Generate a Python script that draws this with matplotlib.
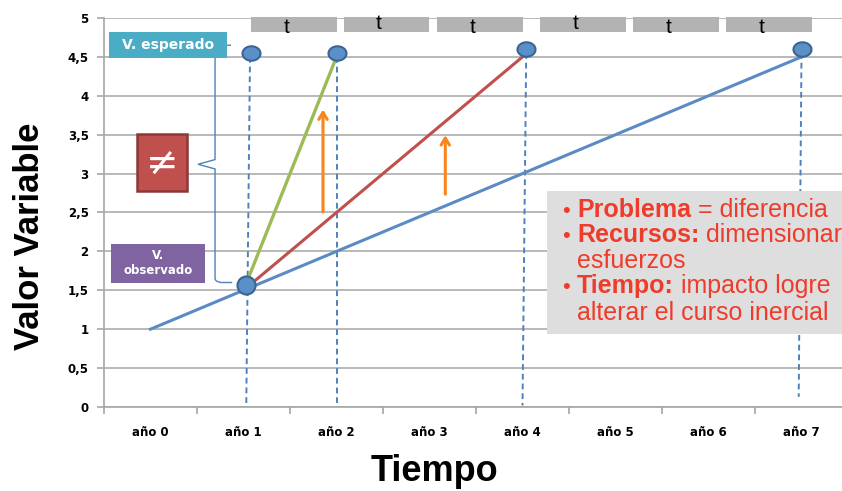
import numpy as np
import matplotlib.pyplot as plt
from matplotlib.path import Path
from matplotlib.patches import Rectangle, PathPatch

# datos
anios = ["año 0", "año 1", "año 2", "año 3", "año 4", "año 5", "año 6", "año 7"]
inercial_x = [0, 7]
inercial_y = [1.0, 4.5]
medio_x = [1, 4]
medio_y = [1.5, 4.5]
rapido_x = [1, 2]
rapido_y = [1.5, 4.5]
esperado_x = [1.08, 2.0, 4.04, 7.0]
esperado_y = [4.55, 4.55, 4.6, 4.6]
observado_x = [1.03]
observado_y = [1.57]
guia_x_arriba = [1.07, 2.0, 4.04, 7.0]
guia_x_abajo = [1.03, 2.0, 4.0, 6.97]
guia_y_arriba = [4.5, 4.5, 4.55, 4.55]
guia_y_abajo = [0.05, 0.05, 0.02, 0.13]
t_ini = [1.08, 2.08, 3.08, 4.19, 5.19, 6.19]
t_fin = [2.0, 2.99, 4.0, 5.11, 6.11, 7.11]
t_y = [4.88, 4.93, 4.88, 4.93, 4.88, 4.88]
flecha_x = [1.855, 3.17]
flecha_y0 = [2.47, 2.7]
flecha_y1 = [3.86, 3.53]

azul = '#4F81BD'
rojo = '#C0504D'
verde = '#9BBB59'
naranja = '#F7861C'
gris = '#A6A6A6'
texto_rojo = '#EE3B2A'

fig = plt.figure(figsize=(8.42, 4.91), dpi=100)
ax = fig.add_axes([104 / 842, 1 - 407 / 491, 744 / 842, 389 / 491])
ax.set_xlim(-0.5, 7.5)
ax.set_ylim(0, 5)

for s in ['top', 'right']:
    ax.spines[s].set_visible(False)
for s in ['left', 'bottom']:
    ax.spines[s].set_color(gris)
    ax.spines[s].set_linewidth(1.2)

ax.set_yticks(np.arange(0, 5.01, 0.5))
ax.set_yticklabels(["0", "0,5", "1", "1,5", "2", "2,5", "3", "3,5", "4", "4,5", "5"],
                   fontsize=8.5, fontweight='bold')
ax.yaxis.grid(True, color=gris, linewidth=1.1)
ax.set_axisbelow(True)
ax.tick_params(axis='y', length=5, color=gris, width=1.2, pad=6)

ax.set_xticks(np.arange(-0.5, 7.51, 1))
ax.set_xticklabels([])
ax.set_xticks(np.arange(len(anios)), minor=True)
ax.set_xticklabels(anios, minor=True, fontsize=8.5, fontweight='bold')
ax.tick_params(axis='x', which='major', length=5, color=gris, width=1.2)
ax.tick_params(axis='x', which='minor', length=0, pad=14)

# lineas guia punteadas
for xa, xb, ya, yb in zip(guia_x_arriba, guia_x_abajo, guia_y_arriba, guia_y_abajo):
    ax.plot([xa, xb], [ya, yb], color=azul, linestyle='--', linewidth=1.4,
            dashes=(3, 2), zorder=2)

# trayectorias
ax.plot(inercial_x, inercial_y, color='#5B8AC5', linewidth=2.2, zorder=3)
ax.plot(medio_x, medio_y, color=rojo, linewidth=2.2, zorder=3)
ax.plot(rapido_x, rapido_y, color=verde, linewidth=2.4, zorder=3)

# marcadores
th = np.linspace(0, 2 * np.pi, 40)
ovalo = Path(np.column_stack([np.cos(th), 0.8 * np.sin(th)]))
ax.plot(esperado_x, esperado_y, linestyle='none', marker=ovalo, markersize=13,
        markerfacecolor='#5B8FC7', markeredgecolor='#3B6593', markeredgewidth=1.5,
        zorder=5, clip_on=False)
ax.plot(observado_x, observado_y, linestyle='none', marker='o', markersize=13,
        markerfacecolor='#5B8FC7', markeredgecolor='#3B6593', markeredgewidth=1.5,
        zorder=5)

# barras t
ax.broken_barh([(a, b - a) for a, b in zip(t_ini, t_fin)], (4.82, 0.19),
               facecolors='#B3B3B3', zorder=3, clip_on=False)
for a, b, yy in zip(t_ini, t_fin, t_y):
    ax.text((a + b) / 2 - 0.08, yy, "t", fontsize=15, family='Liberation Sans',
            ha='center', va='center', zorder=4, clip_on=False)

# flechas naranjas
for xx, y0, y1 in zip(flecha_x, flecha_y0, flecha_y1):
    ax.annotate("", xy=(xx, y1), xytext=(xx, y0),
                arrowprops=dict(arrowstyle='->,head_length=0.5,head_width=0.3',
                                color=naranja, lw=2.2), zorder=4)

# llave
verts = [(0.866, 4.65), (0.694, 4.65), (0.694, 3.18), (0.511, 3.12),
         (0.694, 3.06), (0.694, 1.66), (0.694, 1.607), (0.75, 1.607)]
codes = [Path.MOVETO, Path.LINETO, Path.LINETO, Path.LINETO, Path.LINETO,
         Path.LINETO, Path.CURVE3, Path.CURVE3]
ax.add_patch(PathPatch(Path(verts, codes), facecolor='none',
                       edgecolor=azul, lw=1.0, zorder=4))
ax.plot([0.75, 0.866], [1.607, 1.607], color=azul, lw=1.0, zorder=4)

# cajas
ax.add_patch(Rectangle((-0.446, 4.48), 1.269, 0.34, facecolor='#4BACC6',
                       edgecolor='none', zorder=6))
ax.text(0.19, 4.65, "V. esperado", color='white', fontsize=10, fontweight='bold',
        ha='center', va='center', zorder=7)
ax.add_patch(Rectangle((-0.145, 2.78), 0.537, 0.73, facecolor='#C0504D',
                       edgecolor='#8C3836', lw=1.8, zorder=6))
ax.text(0.123, 3.13, "≠", color='white', fontsize=28, ha='center', va='center',
        zorder=7)
ax.add_patch(Rectangle((-0.425, 1.594), 1.011, 0.501, facecolor='#8064A2',
                       edgecolor='none', zorder=6))
ax.text(0.08, 1.845, "V.\nobservado", color='white', fontsize=8.5,
        fontweight='bold', ha='center', va='center', linespacing=1.2, zorder=7)

# caja de texto
ax.add_patch(Rectangle((4.263, 0.938), 3.4, 1.838, facecolor='#DEDEDE',
                       edgecolor='none', zorder=6, clip_on=False))
lineas = [("Problema", " = diferencia"), ("Recursos:", " dimensionar"),
          ("", "esfuerzos"), ("Tiempo:", " impacto logre"),
          ("", "alterar el curso inercial")]
base_y = [2.442, 2.121, 1.787, 1.465, 1.118]
for (neg, resto), yy in zip(lineas, base_y):
    if neg:
        ax.text(4.425, yy, "•", color=texto_rojo, fontsize=16,
                family='Liberation Sans', va='baseline', zorder=7)
        t1 = ax.text(4.586, yy, neg, color=texto_rojo, fontsize=18,
                     family='Liberation Sans', fontweight='bold', va='baseline',
                     zorder=7)
        ax.annotate(resto, xy=(1, 0), xycoords=t1, color=texto_rojo, fontsize=18,
                    family='Liberation Sans', va='bottom', ha='left', zorder=7,
                    annotation_clip=False)
    else:
        ax.text(4.586, yy, resto, color=texto_rojo, fontsize=18,
                family='Liberation Sans', va='baseline', zorder=7, clip_on=False)

# titulos de ejes
fig.text(30 / 842, 1 - 236 / 491, "Valor Variable", rotation=90, fontsize=25,
         fontweight='bold', family='Liberation Sans', ha='center', va='center')
fig.text(434 / 842, 1 - 481 / 491, "Tiempo", fontsize=26, fontweight='bold',
         family='Liberation Sans', ha='center', va='baseline')

fig.savefig("out.png", dpi=100)
